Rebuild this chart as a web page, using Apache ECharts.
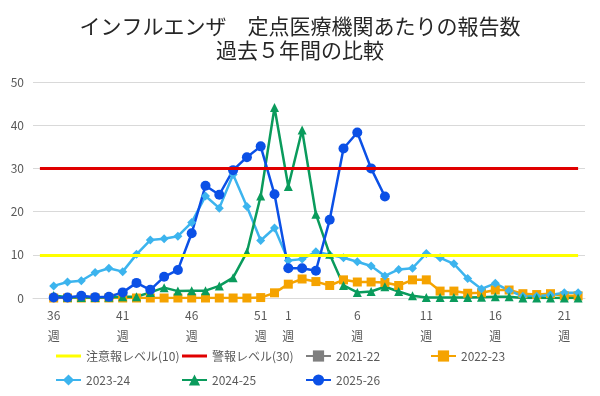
<!DOCTYPE html>
<html>
<head>
<meta charset="utf-8">
<script src="https://cdn.jsdelivr.net/npm/echarts@6/dist/echarts.min.js"></script>
<style>
  html, body { margin: 0; padding: 0; background: #fff; }
  #chart { width: 600px; height: 396px; }
</style>
</head>
<body>
<div id="chart"></div>
<script>
// 週（先頭の35週は空欄の列）
const weeks = ['35', '36', '37', '38', '39', '40', '41', '42', '43', '44', '45', '46', '47', '48', '49', '50', '51', '52',
  '1', '2', '3', '4', '5', '6', '7', '8', '9', '10', '11', '12', '13', '14', '15', '16', '17', '18', '19', '20', '21', '22'];
// ラベルを出す週
const labelWeeks = ['36', '41', '46', '51', '1', '6', '11', '16', '21'];

const ALERT_LEVEL = 10;   // 注意報レベル
const WARNING_LEVEL = 30; // 警報レベル

// 各シーズンの値（36週から）
const s2021 = [];
const s2022 = [null, 0, 0, 0, 0, 0, 0, 0, 0, 0, 0, 0, 0, 0, 0, 0, 0.1, 1.2, 3.2, 4.4, 3.8, 2.9, 4.2, 3.7, 3.7, 3.6, 2.9,
  4.2, 4.2, 1.6, 1.6, 1.1, 1.2, 1.85, 1.85, 1.0, 0.8, 1.0, 0.5, 0.5];
const s2023 = [null, 2.8, 3.7, 4.0, 5.9, 6.9, 6.1, 10.1, 13.4, 13.7, 14.3, 17.5, 23.6, 20.8, 28.6, 21.2, 13.3, 16.2,
  8.7, 9.0, 10.7, 10.0, 9.3, 8.4, 7.4, 5.1, 6.6, 6.9, 10.3, 9.3, 7.9, 4.5, 2.1, 3.4, 1.7, 0.4, 0.4, 0.7, 1.2, 1.2];
const s2024 = [null, 0.6, 0.2, 0.1, 0.1, 0.2, 0.3, 0.3, 1.3, 2.4, 1.6, 1.7, 1.7, 2.8, 4.7, 10.6, 23.6, 44.1,
  25.8, 38.9, 19.4, 10.1, 2.9, 1.3, 1.5, 2.6, 1.5, 0.5, 0.1, 0.1, 0.1, 0.1, 0.2, 0.3, 0.3, 0, 0, 0, 0, 0];
const s2025 = [null, 0.1, 0.1, 0.5, 0.2, 0.3, 1.3, 3.5, 1.9, 4.9, 6.5, 15.0, 26.0, 23.9, 29.6, 32.6, 35.1, 24.0,
  6.9, 6.9, 6.3, 18.1, 34.6, 38.3, 30.0, 23.5];

const chart = echarts.init(document.getElementById('chart'));
const font = '"Noto Sans CJK JP", "Noto Sans", sans-serif';
const lineIcon = 'path://M0,0L25,0L25,3L0,3Z';

// 基準線（横線）
function levelSeries(name, level, color) {
    return {
        name: name,
        type: 'line',
        data: [],
        symbol: 'none',
        itemStyle: { color: color },
        lineStyle: { color: color, width: 3 },
        markLine: {
            silent: true,
            symbol: 'none',
            label: { show: false },
            lineStyle: { color: color, width: 3, type: 'solid' },
            data: [[{ xAxis: weeks[0], yAxis: level }, { xAxis: weeks[weeks.length - 1], yAxis: level }]]
        }
    };
}

function seasonSeries(name, data, color, symbol, size) {
    return {
        name: name,
        type: 'line',
        data: data,
        symbol: symbol,
        symbolSize: size,
        showAllSymbol: true,
        itemStyle: { color: color },
        lineStyle: { color: color, width: 2.5 },
        emphasis: { disabled: true }
    };
}

function legendAt(left, names) {
    return {
        data: names,
        left: left,
        top: 350,
        padding: 0,
        orient: 'vertical',
        itemGap: 12,
        itemWidth: 25,
        itemHeight: 14,
        textStyle: { fontFamily: font, fontSize: 12, color: '#595959' }
    };
}

const option = {
    animation: false,
    title: {
        text: 'インフルエンザ　定点医療機関あたりの報告数\n過去５年間の比較',
        left: 'center',
        top: 9,
        textStyle: { fontFamily: font, fontSize: 21, fontWeight: 'normal', color: '#262626', lineHeight: 24 }
    },
    legend: [
        legendAt(55, [{ name: '注意報レベル(10)', icon: lineIcon }, '2023-24']),
        legendAt(181, [{ name: '警報レベル(30)', icon: lineIcon }, '2024-25']),
        legendAt(305, ['2021-22', '2025-26']),
        legendAt(430, ['2022-23'])
    ],
    grid: { left: 33, right: 15, top: 82, bottom: 98 },
    xAxis: {
        type: 'category',
        data: weeks,
        boundaryGap: true,
        axisLine: { lineStyle: { color: '#d9d9d9' } },
        axisTick: { show: false },
        axisLabel: {
            interval: (i, v) => i > 0 && labelWeeks.includes(v),
            formatter: v => v + '\n週',
            fontFamily: font,
            fontSize: 12,
            lineHeight: 21,
            color: '#595959',
            margin: 7
        }
    },
    yAxis: {
        type: 'value',
        min: 0,
        max: 50,
        interval: 10,
        axisLine: { show: false },
        axisTick: { show: false },
        splitLine: { lineStyle: { color: '#d9d9d9' } },
        axisLabel: { fontFamily: font, fontSize: 12, color: '#595959', margin: 9 }
    },
    series: [
        levelSeries('注意報レベル(10)', ALERT_LEVEL, '#ffff00'),
        levelSeries('警報レベル(30)', WARNING_LEVEL, '#e00000'),
        seasonSeries('2021-22', s2021, '#7f7f7f', 'rect', 8),
        seasonSeries('2022-23', s2022, '#f5a300', 'rect', 9),
        seasonSeries('2023-24', s2023, '#3cb4ee', 'diamond', 9),
        seasonSeries('2024-25', s2024, '#0a9b5c', 'triangle', 9),
        seasonSeries('2025-26', s2025, '#0b50e6', 'circle', 10)
    ]
};

chart.setOption(option);
</script>
</body>
</html>
